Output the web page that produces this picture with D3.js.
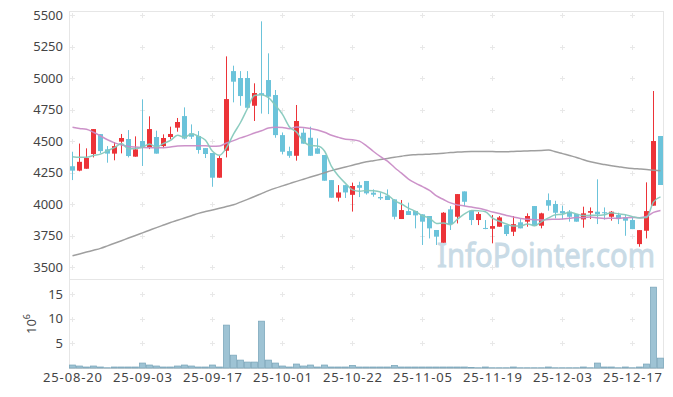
<!DOCTYPE html>
<html>
<head>
<meta charset="utf-8">
<script src="https://cdnjs.cloudflare.com/ajax/libs/d3/7.8.5/d3.min.js"></script>
<style>
	body { margin: 0; background: #fff; }
	text { font-family: 'Noto Sans', sans-serif; }
</style>
</head>
<body>
<div id="vis"></div>
<script>
var dates = [
	'25-08-20','25-08-21','25-08-22','25-08-25','25-08-26','25-08-27','25-08-28','25-08-29','25-09-01','25-09-02',
	'25-09-03','25-09-04','25-09-05','25-09-08','25-09-09','25-09-10','25-09-11','25-09-12','25-09-15','25-09-16',
	'25-09-17','25-09-18','25-09-19','25-09-22','25-09-23','25-09-24','25-09-25','25-09-26','25-09-29','25-09-30',
	'25-10-01','25-10-02','25-10-10','25-10-13','25-10-14','25-10-15','25-10-16','25-10-17','25-10-20','25-10-21',
	'25-10-22','25-10-23','25-10-24','25-10-27','25-10-28','25-10-29','25-10-30','25-10-31','25-11-03','25-11-04',
	'25-11-05','25-11-06','25-11-07','25-11-10','25-11-11','25-11-12','25-11-13','25-11-14','25-11-17','25-11-18',
	'25-11-19','25-11-20','25-11-21','25-11-24','25-11-25','25-11-26','25-11-27','25-11-28','25-12-01','25-12-02',
	'25-12-03','25-12-04','25-12-05','25-12-08','25-12-09','25-12-10','25-12-11','25-12-12','25-12-15','25-12-16',
	'25-12-17','25-12-18','25-12-19','25-12-22','25-12-23'
];

var open = [
	4300,4265,4280,4397,4555,4434,4400,4495,4516,4376,
	4500,4447,4532,4460,4532,4606,4698,4561,4540,4444,
	4405,4209,4423,5055,5000,5000,4780,4880,4984,4865,
	4547,4420,4383,4566,4526,4442,4389,4190,4050,4150,
	4073,4150,4183,4090,4056,4066,4037,3881,3944,3945,
	3918,3905,3794,3693,3958,3899,4100,3947,3873,3810,
	3804,3820,3833,3780,3855,3860,3984,3828,4031,4000,
	3944,3939,3921,3878,3931,3939,3935,3899,3913,3894,
	3873,3682,3788,3987,4540
];
var high = [
	4415,4480,4442,4595,4555,4460,4492,4556,4587,4537,
	4831,4696,4582,4553,4614,4683,4767,4632,4579,4444,
	4405,4381,5172,5098,5055,5055,4958,5450,5196,4905,
	4568,4455,4786,4600,4614,4521,4389,4190,4150,4150,
	4170,4177,4183,4116,4092,4116,4037,4032,4011,3945,
	3918,3905,3794,3936,3984,4079,4100,3947,3936,3873,
	3913,3905,3833,3905,3880,3926,3984,3931,4084,4026,
	3987,3952,3921,3979,3973,4196,3973,3944,3931,3913,
	3899,3793,4172,4897,4540
];
var low = [
	4190,4260,4280,4370,4402,4328,4347,4402,4370,4376,
	4302,4436,4400,4444,4513,4574,4513,4516,4400,4365,
	4137,4209,4370,4807,4780,4764,4659,4718,4714,4526,
	4394,4367,4344,4479,4383,4399,4185,4050,4020,4048,
	3940,4055,4075,4058,4032,4032,3878,3881,3913,3807,
	3675,3727,3675,3693,3794,3846,3984,3833,3833,3800,
	3688,3820,3746,3746,3807,3820,3825,3807,3947,3886,
	3878,3860,3860,3812,3881,3841,3876,3868,3841,3748,
	3801,3661,3727,3987,4151
];
var close = [
	4265,4335,4365,4595,4420,4400,4460,4524,4381,4434,
	4452,4595,4400,4524,4556,4651,4519,4534,4429,4397,
	4209,4365,4833,4971,4857,4764,4881,4865,4852,4547,
	4415,4383,4659,4479,4383,4399,4185,4050,4092,4092,
	4143,4129,4085,4074,4045,4032,3899,3952,3913,3910,
	3860,3807,3741,3931,3841,4079,4018,3873,3921,3804,
	3825,3894,3762,3840,3807,3905,3825,3926,3987,3931,
	3926,3899,3860,3926,3944,3918,3928,3939,3881,3868,
	3801,3793,3944,4500,4151
];

// volume in millions
var volume = [
	0.6,0.4,0.2,0.4,0.2,0.05,0.2,0.2,0.2,0.2,
	1.0,0.6,0.4,0.2,0.2,0.4,0.6,0.4,0.2,0.2,
	0.6,0.2,8.7,2.6,1.6,1.2,1.2,9.5,1.6,1.0,
	0.4,0.2,0.8,0.4,0.6,0.2,0.6,0.2,0.2,0.2,
	0.5,0.2,0.2,0.2,0.2,0.2,0.5,0.2,0.2,0.2,
	0.2,0.2,0.2,0.2,0.2,0.2,0.2,0.1,0.05,0.2,
	0.05,0.05,0.05,0.2,0.05,0.05,0.05,0.05,0.2,0.05,
	0.05,0.05,0.05,0.2,0.05,1.0,0.2,0.2,0.05,0.2,
	0.05,0.2,0.8,16.4,2.0
];

var ma5 = [
	4376,4372,4372,4385,4396,4423,4448,4480,4437,4440,
	4450,4477,4452,4481,4505,4545,4530,4557,4538,4506,
	4418,4387,4447,4555,4647,4758,4861,4868,4844,4782,
	4712,4612,4571,4497,4464,4461,4421,4299,4222,4164,
	4112,4101,4108,4105,4095,4073,4027,4000,3968,3941,
	3907,3888,3846,3850,3836,3880,3922,3948,3946,3939,
	3888,3863,3841,3825,3826,3842,3828,3861,3890,3915,
	3919,3934,3921,3908,3911,3909,3915,3931,3922,3915,
	3900,3890,3893,4017,4057
];
var ma20 = [
	4609,4600,4593,4570,4540,4510,4485,4468,4457,4452,
	4449,4447,4446,4447,4452,4460,4463,4463,4463,4462,
	4459,4461,4484,4503,4525,4543,4564,4581,4604,4610,
	4608,4598,4611,4608,4600,4587,4570,4546,4529,4514,
	4511,4499,4462,4417,4376,4340,4290,4245,4198,4166,
	4138,4109,4064,4036,4009,3993,3985,3976,3967,3953,
	3937,3925,3909,3897,3885,3879,3875,3874,3878,3879,
	3882,3887,3893,3892,3898,3890,3885,3888,3886,3892,
	3893,3892,3901,3934,3949
];
var ma60 = [
	3590,3604,3619,3633,3648,3668,3689,3709,3730,3750,
	3771,3792,3813,3833,3853,3871,3889,3907,3926,3940,
	3953,3966,3980,3994,4015,4037,4060,4083,4106,4126,
	4144,4162,4180,4197,4214,4231,4248,4265,4280,4294,
	4308,4322,4335,4344,4353,4362,4371,4380,4388,4391,
	4394,4396,4400,4404,4408,4412,4415,4416,4416,4416,
	4416,4415,4415,4417,4419,4421,4423,4425,4428,4415,
	4400,4385,4370,4352,4336,4323,4313,4304,4296,4288,
	4282,4278,4274,4269,4264
];

var dateTicks = ['25-08-20','25-09-03','25-09-17','25-10-01','25-10-22','25-11-05','25-11-19','25-12-03','25-12-17'];
var priceTicks = [3500, 3750, 4000, 4250, 4500, 4750, 5000, 5250, 5500];
var volumeTicks = [5, 10, 15];

var width = 673,
	height = 397;

var plot = { left: 69, right: 663, top: 11, mid: 279, bottom: 368 };

var svg = d3.select('#vis')
	.append('svg')
	.attr('width', width)
	.attr('height', height);

var xScale = d3.scaleBand()
	.domain(dates)
	.range([plot.left, plot.left + 7 * dates.length])
	.padding(0);

var cx = function(d) { return xScale(d) + xScale.bandwidth() / 2; };

var yPrice = d3.scaleLinear()
	.domain([3405, 5532])
	.range([plot.mid, plot.top]);

var yVol = d3.scaleLinear()
	.domain([0, 18])
	.range([plot.bottom, plot.mid + 0.3]);

// frame
svg.append('rect')
	.attr('x', plot.left + 0.5)
	.attr('y', plot.top + 0.5)
	.attr('width', plot.right - plot.left)
	.attr('height', plot.bottom - plot.top)
	.attr('fill', 'none')
	.attr('stroke', '#e6e6e6');

svg.append('line')
	.attr('x1', plot.left).attr('x2', plot.right + 1)
	.attr('y1', plot.mid + 0.5).attr('y2', plot.mid + 0.5)
	.attr('stroke', '#e6e6e6');

svg.append('line')
	.attr('x1', plot.left).attr('x2', plot.right + 1)
	.attr('y1', plot.bottom + 0.5).attr('y2', plot.bottom + 0.5)
	.attr('stroke', '#d8d8d8');

// grid crosses
var crossPts = [];
dateTicks.forEach(function(t) {
	priceTicks.forEach(function(p) { crossPts.push([cx(t), yPrice(p)]); });
	volumeTicks.forEach(function(v) { crossPts.push([cx(t), yVol(v)]); });
});

var cross = svg.append('g')
	.attr('stroke', '#e8e8e8')
	.attr('stroke-width', 1)
	.selectAll('g')
	.data(crossPts)
	.enter().append('g')
		.attr('transform', function(d) { return 'translate(' + d[0] + ',' + (Math.round(d[1]) + 0.5) + ')'; });

cross.append('line').attr('x1', -2.5).attr('x2', 2.5);
cross.append('line').attr('y1', -2.5).attr('y2', 2.5);

// watermark
svg.append('text')
	.attr('x', 437)
	.attr('y', 267)
	.attr('font-size', 33)
	.attr('textLength', 218)
	.attr('lengthAdjust', 'spacingAndGlyphs')
	.attr('fill', '#c9dbe6')
	.attr('stroke', '#c9dbe6')
	.attr('stroke-width', 0.9)
	.text('InfoPointer.com');

// axes labels
svg.append('g')
	.selectAll('text')
	.data(priceTicks)
	.enter().append('text')
		.attr('x', 63)
		.attr('y', function(d) { return yPrice(d); })
		.attr('dy', '0.35em')
		.attr('text-anchor', 'end')
		.attr('font-size', 13)
		.attr('fill', '#444')
		.text(function(d) { return d; });

svg.append('g')
	.selectAll('text')
	.data(volumeTicks)
	.enter().append('text')
		.attr('x', 63)
		.attr('y', function(d) { return yVol(d); })
		.attr('dy', '0.35em')
		.attr('text-anchor', 'end')
		.attr('font-size', 13)
		.attr('fill', '#444')
		.text(function(d) { return d; });

var unit = svg.append('text')
	.attr('transform', 'translate(36,324) rotate(-90)')
	.attr('text-anchor', 'middle')
	.attr('font-size', 13)
	.attr('fill', '#444');
unit.append('tspan').text('10');
unit.append('tspan').attr('font-size', 9).attr('dy', -6).text('6');

svg.append('g')
	.selectAll('text')
	.data(dateTicks)
	.enter().append('text')
		.attr('x', function(d) { return cx(d); })
		.attr('y', 382)
		.attr('text-anchor', 'middle')
		.attr('font-size', 13)
		.attr('fill', '#444')
		.attr('textLength', 59)
		.attr('lengthAdjust', 'spacing')
		.text(function(d) { return d; });

// volume bars
svg.append('g')
	.selectAll('rect')
	.data(dates)
	.enter().append('rect')
		.attr('x', function(d) { return xScale(d) + 0.5; })
		.attr('width', xScale.bandwidth() - 1)
		.attr('y', function(d, i) { return yVol(volume[i]); })
		.attr('height', function(d, i) { return yVol(0) - yVol(volume[i]); })
		.attr('fill', '#9ec3d4')
		.attr('stroke', '#7da8bc')
		.attr('stroke-width', 0.8);

// candles
var candle = svg.append('g')
	.selectAll('g')
	.data(dates)
	.enter().append('g')
		.attr('fill', function(d, i) { return close[i] >= open[i] ? '#ec3338' : '#6bc3da'; })
		.attr('stroke', function(d, i) { return close[i] >= open[i] ? '#ec3338' : '#6bc3da'; });

candle.append('line')
	.attr('x1', function(d) { return cx(d); })
	.attr('x2', function(d) { return cx(d); })
	.attr('y1', function(d, i) { return yPrice(high[i]); })
	.attr('y2', function(d, i) { return yPrice(low[i]); })
	.attr('stroke-width', 1);

candle.append('rect')
	.attr('x', function(d) { return cx(d) - 2.5; })
	.attr('width', 5)
	.attr('y', function(d, i) { return yPrice(Math.max(open[i], close[i])); })
	.attr('height', function(d, i) { return Math.max(1, Math.abs(yPrice(open[i]) - yPrice(close[i]))); })
	.attr('stroke', 'none');

// moving averages
var maLine = function(values) {
	return d3.line()
		.x(function(d, i) { return cx(dates[i]); })
		.y(function(d) { return yPrice(d); })
		.curve(d3.curveMonotoneX)(values);
};

[[ma60, '#9a9a9a'], [ma20, '#c98cc6'], [ma5, '#86c9bd']].forEach(function(m) {
	svg.append('path')
		.attr('d', maLine(m[0]))
		.attr('fill', 'none')
		.attr('stroke', m[1])
		.attr('stroke-width', 1.5)
		.attr('opacity', 0.95);
});
</script>
</body>
</html>
